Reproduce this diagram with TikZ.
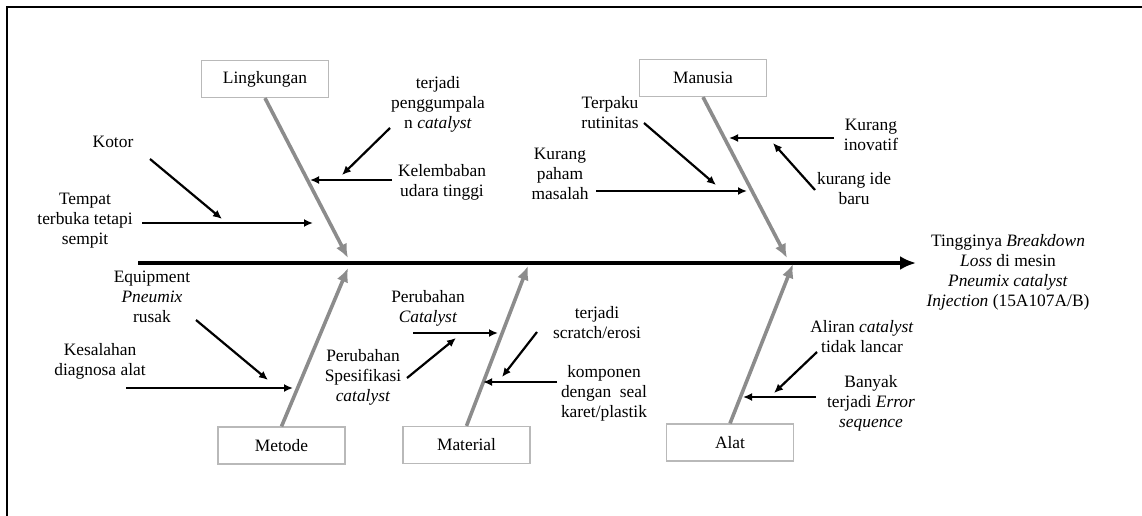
\documentclass[tikz,border=0pt]{standalone}
\usepackage{fontspec}
\setmainfont{Liberation Serif}
\usetikzlibrary{arrows.meta}
\definecolor{abutulang}{RGB}{140,140,140}
\definecolor{abukotak}{RGB}{185,185,185}
\begin{document}
\begin{tikzpicture}[x=1pt,y=-1pt,font=\fontsize{17.4}{20}\selectfont,
  kotak/.style={draw=abukotak,line width=1.2pt,minimum width=127pt,minimum height=37pt,inner sep=0pt},
  tulang/.style={draw=abutulang,line width=3.6pt,-{Latex[length=14pt,width=12pt]}},
  sebab/.style={line width=2.2pt,-{Latex[length=9pt,width=8pt]}},
  teks/.style={align=center,inner sep=0pt}]
\useasboundingbox (0,0) rectangle (1142,516);
% bingkai
\draw[line width=1.5pt] (7,516)--(7,7)--(1142,7);

% tulang utama
\coordinate (kepalaL) at (138,263);
\coordinate (kepalaR) at (916,263);
\draw[line width=4pt,-{Latex[length=16pt,width=14pt]}] (kepalaL)--(kepalaR);
\node[teks] (akibat) at (1008,272) {Tingginya \textit{Breakdown}\\ \textit{Loss} di mesin\\ \textit{Pneumix catalyst}\\ \textit{Injection} (15A107A/B)};

% kategori
\node[kotak] (lingkungan) at (265,79) {Lingkungan};
\node[kotak] (manusia) at (703,78) {Manusia};
\node[kotak] (metode) at (281.5,445.5) {Metode};
\node[kotak] (material) at (466.5,445) {Material};
\node[kotak] (alat) at (730,442.5) {Alat};

\coordinate (ujungL) at (348,258);
\coordinate (ujungM) at (787,258);
\coordinate (ujungMe) at (348,268);
\coordinate (ujungMa) at (528,266);
\coordinate (ujungA) at (793,264);
\draw[tulang] (lingkungan.south)--(ujungL);
\draw[tulang] (manusia.south)--(ujungM);
\draw[tulang] (metode.north)--(ujungMe);
\draw[tulang] (material.north)--(ujungMa);
\draw[tulang] (alat.north)--(ujungA);

% Lingkungan
\node[teks] (kotor) at (113,142) {Kotor};
\node[teks] (tempat) at (85,221) {Tempat\\ terbuka tetapi\\ sempit};
\node[teks] (gumpal) at (438,104) {terjadi\\ penggumpala\\ n \textit{catalyst}};
\node[teks] (lembab) at (442,182) {Kelembaban\\ udara tinggi};
\coordinate (kotorA) at (150,159); \coordinate (kotorB) at (222,219);
\coordinate (tempatA) at (142,223); \coordinate (tempatB) at (313,223);
\coordinate (gumpalA) at (390,128); \coordinate (gumpalB) at (342,175);
\coordinate (lembabA) at (392,180); \coordinate (lembabB) at (310,180);
\draw[sebab] (kotorA)--(kotorB);
\draw[sebab] (tempatA)--(tempatB);
\draw[sebab] (gumpalA)--(gumpalB);
\draw[sebab] (lembabA)--(lembabB);

% Manusia
\node[teks] (terpaku) at (610,113) {Terpaku\\ rutinitas};
\node[teks] (paham) at (560,174) {Kurang\\ paham\\ masalah};
\node[teks] (inovatif) at (871,135) {Kurang\\ inovatif};
\node[teks] (ide) at (854,189) {kurang ide\\ baru};
\coordinate (terpakuA) at (644,123); \coordinate (terpakuB) at (716,185);
\coordinate (pahamA) at (596,191); \coordinate (pahamB) at (747,191);
\coordinate (inovatifA) at (834,138); \coordinate (inovatifB) at (729,138);
\coordinate (ideA) at (815,190); \coordinate (ideB) at (773,143);
\draw[sebab] (terpakuA)--(terpakuB);
\draw[sebab] (pahamA)--(pahamB);
\draw[sebab] (inovatifA)--(inovatifB);
\draw[sebab] (ideA)--(ideB);

% Metode
\node[teks] (equip) at (152,297) {Equipment\\ \textit{Pneumix}\\ rusak};
\node[teks] (salah) at (100,361) {Kesalahan\\ diagnosa alat};
\coordinate (equipA) at (196,320); \coordinate (equipB) at (268,380);
\coordinate (salahA) at (126,388); \coordinate (salahB) at (293,388);
\draw[sebab] (equipA)--(equipB);
\draw[sebab] (salahA)--(salahB);

% Material
\node[teks] (ubahcat) at (428,308) {Perubahan\\ \textit{Catalyst}};
\node[teks] (spesifik) at (363,377) {Perubahan\\ Spesifikasi\\ \textit{catalyst}};
\node[teks] (scratch) at (597,323) {terjadi\\ scratch/erosi};
\node[teks] (seal) at (604,393) {komponen\\ dengan~ seal\\ karet/plastik};
\coordinate (ubahcatA) at (413,333); \coordinate (ubahcatB) at (498,333);
\coordinate (spesifikA) at (407,378); \coordinate (spesifikB) at (456,338);
\coordinate (scratchA) at (537,332); \coordinate (scratchB) at (502,377);
\coordinate (sealA) at (557,382); \coordinate (sealB) at (483,382);
\draw[sebab] (ubahcatA)--(ubahcatB);
\draw[sebab] (spesifikA)--(spesifikB);
\draw[sebab] (scratchA)--(scratchB);
\draw[sebab] (sealA)--(sealB);

% Alat
\node[teks] (aliran) at (862,337) {Aliran \textit{catalyst}\\ tidak lancar};
\node[teks] (banyak) at (871,403) {Banyak\\ terjadi \textit{Error}\\ \textit{sequence}};
\coordinate (aliranA) at (817,352); \coordinate (aliranB) at (774,393);
\coordinate (banyakA) at (816,397); \coordinate (banyakB) at (743,397);
\draw[sebab] (aliranA)--(aliranB);
\draw[sebab] (banyakA)--(banyakB);

\end{tikzpicture}
\end{document}
